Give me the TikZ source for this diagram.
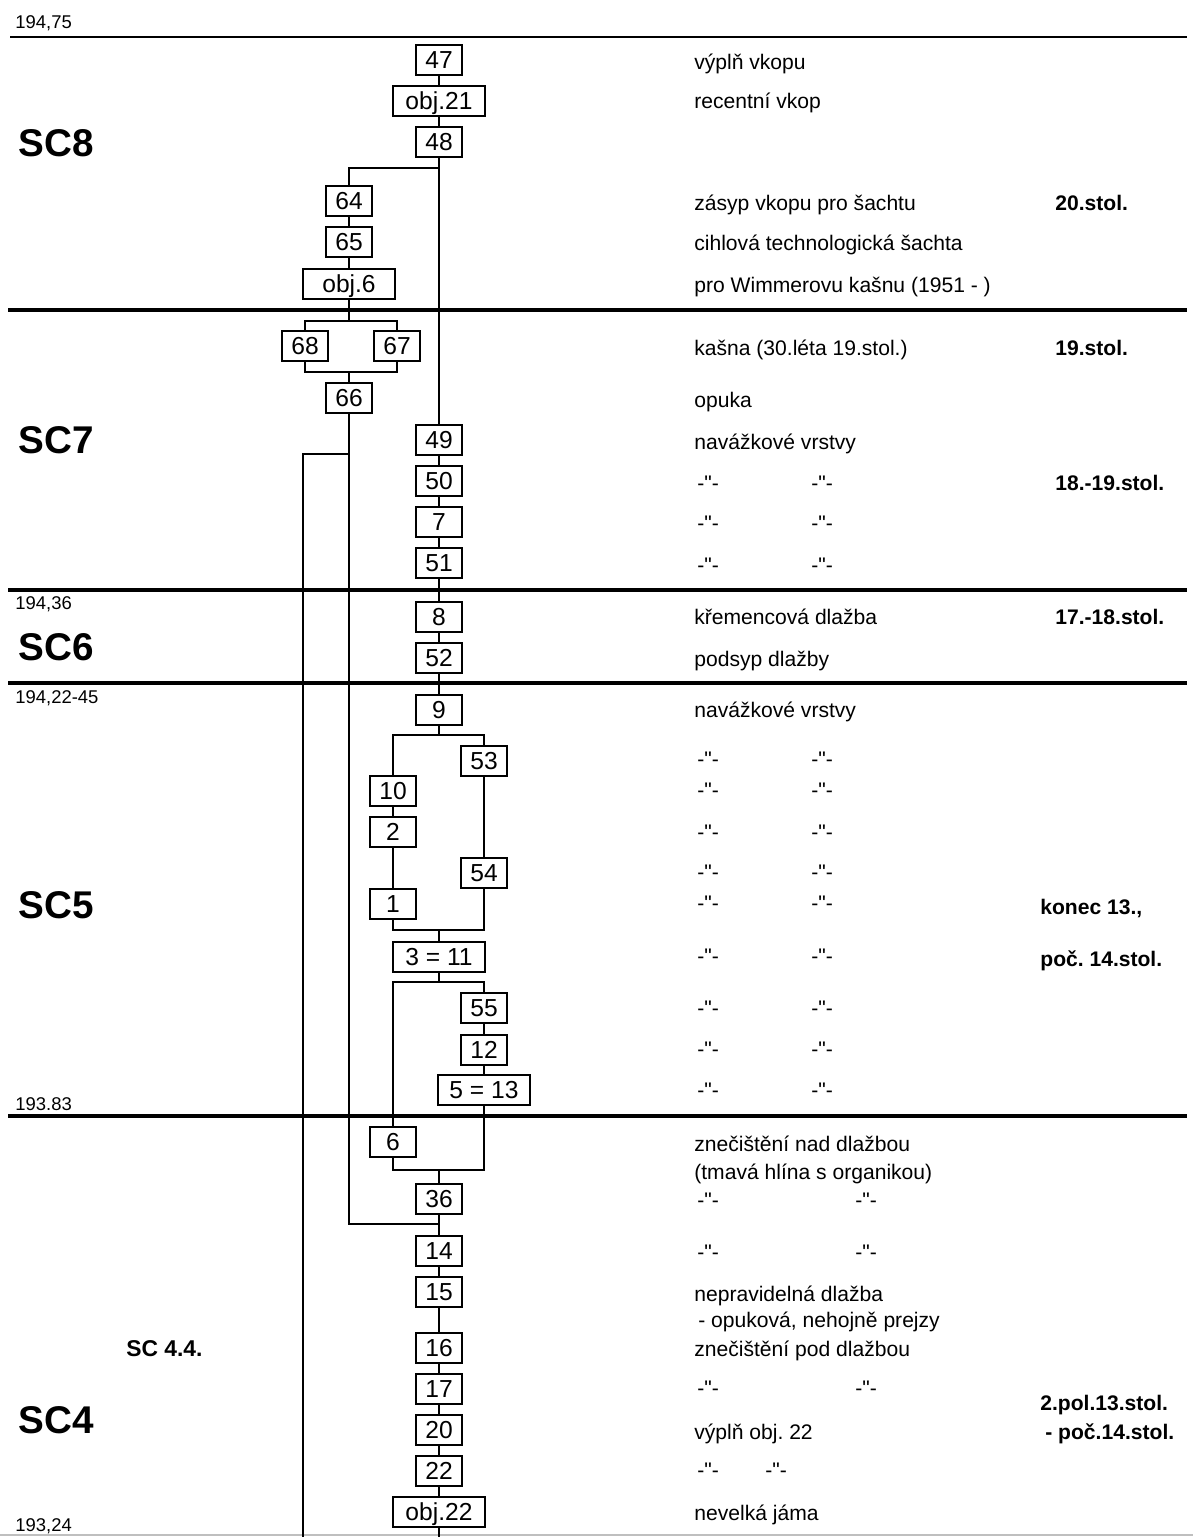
\documentclass[tikz,border=0pt]{standalone}
\usepackage{fontspec}
\setmainfont{Liberation Sans}[Ligatures=TeXOff]
\frenchspacing

\begin{document}
\begin{tikzpicture}[x=0.02cm, y=-0.02cm,
  box/.style={draw, line width=0.9pt, minimum width=0.92cm, minimum height=0.6cm,
    inner sep=0pt, font=\fontsize{14}{16}\selectfont, text height=10pt, text depth=0pt},
  wide/.style={box, minimum width=1.84cm},
  conn/.style={line width=0.9pt},
  stratum/.style={line width=2.4pt},
  lbl/.style={anchor=west, inner sep=0pt, font=\fontsize{12}{14}\selectfont,
    text height=8.6pt, text depth=0pt},
  era/.style={lbl, font=\fontsize{12}{14}\selectfont\bfseries},
  sc/.style={anchor=west, inner sep=0pt, font=\fontsize{22}{26}\selectfont\bfseries,
    text height=15.8pt, text depth=0pt},
  elev/.style={anchor=west, inner sep=0pt, font=\fontsize{10.5}{12}\selectfont,
    text height=7.5pt, text depth=0pt}]
  \useasboundingbox (0,0) rectangle (1193,1537);

  % hranice souvrstvi
  \draw[line width=1.1pt] (10,37) -- (1187,37);
  \draw[stratum] (8,310) -- (1187,310);
  \draw[stratum] (8,590) -- (1187,590);
  \draw[stratum] (8,683) -- (1187,683);
  \draw[stratum] (8,1116) -- (1187,1116);
  \draw[black!25, line width=0.8pt] (0,1535) -- (1193,1535);

  % nivelace
  \node[elev] (e1) at (15,22)   {194,75};
  \node[elev] (e2) at (15,603)  {194,36};
  \node[elev] (e3) at (15,697)  {194,22-45};
  \node[elev] (e4) at (15,1104) {193.83};
  \node[elev] (e5) at (15,1525) {193,24};

  % souvrstvi
  \node[sc] (sc8) at (18,143)  {SC8};
  \node[sc] (sc7) at (18,440)  {SC7};
  \node[sc] (sc6) at (18,647)  {SC6};
  \node[sc] (sc5) at (18,905)  {SC5};
  \node[sc] (sc4) at (18,1420) {SC4};
  \node[sc, font=\fontsize{13}{15}\selectfont\bfseries, text height=9.3pt] (sc44) at (126,1348) {SC 4.4.};

  % kontexty
  \node[box]  (n47) at (439,60)   {47};
  \node[wide] (o21) at (439,101)  {obj.21};
  \node[box]  (n48) at (439,142)  {48};
  \node[box]  (n64) at (349,201)  {64};
  \node[box]  (n65) at (349,242)  {65};
  \node[wide] (o6)  at (349,284)  {obj.6};
  \node[box]  (n68) at (305,346)  {68};
  \node[box]  (n67) at (397,346)  {67};
  \node[box]  (n66) at (349,398)  {66};
  \node[box]  (n49) at (439,440)  {49};
  \node[box]  (n50) at (439,481)  {50};
  \node[box]  (n7)  at (439,522)  {7};
  \node[box]  (n51) at (439,563)  {51};
  \node[box]  (n8)  at (439,617)  {8};
  \node[box]  (n52) at (439,658)  {52};
  \node[box]  (n9)  at (439,710)  {9};
  \node[box]  (n53) at (484,761)  {53};
  \node[box]  (n10) at (393,791)  {10};
  \node[box]  (n2)  at (393,832)  {2};
  \node[box]  (n54) at (484,873)  {54};
  \node[box]  (n1)  at (393,904)  {1};
  \node[wide] (n311) at (439,957) {3 = 11};
  \node[box]  (n55) at (484,1008) {55};
  \node[box]  (n12) at (484,1050) {12};
  \node[wide] (n513) at (484,1090) {5 = 13};
  \node[box]  (n6)  at (393,1142) {6};
  \node[box]  (n36) at (439,1199) {36};
  \node[box]  (n14) at (439,1251) {14};
  \node[box]  (n15) at (439,1292) {15};
  \node[box]  (n16) at (439,1348) {16};
  \node[box]  (n17) at (439,1389) {17};
  \node[box]  (n20) at (439,1430) {20};
  \node[box]  (n22) at (439,1471) {22};
  \node[wide] (o22) at (439,1512) {obj.22};

  % uzly vetveni
  \coordinate (b48)  at (439,168);
  \coordinate (b6)   at (349,321);
  \coordinate (m66)  at (349,372);
  \coordinate (b66)  at (349,454);
  \coordinate (bl)   at (303,1537);
  \coordinate (b9)   at (439,735);
  \coordinate (m311) at (439,930);
  \coordinate (b311) at (439,982);
  \coordinate (m36)  at (439,1170);
  \coordinate (j36)  at (439,1224);
  \coordinate (bo)   at (439,1537);

  % vazby
  \draw[conn] (n47) -- (o21) -- (n48) -- (n49) -- (n50) -- (n7) -- (n51)
    -- (n8) -- (n52) -- (n9) -- (b9);
  \draw[conn] (b48) -| (n64);
  \draw[conn] (n64) -- (n65) -- (o6) -- (b6);
  \draw[conn] (n68) |- (b6) -| (n67);
  \draw[conn] (n68) |- (m66) -| (n67);
  \draw[conn] (m66) -- (n66);
  \draw[conn] (n66) |- (j36);
  \draw[conn] (b66) -| (bl);
  \draw[conn] (n10) |- (b9) -| (n53);
  \draw[conn] (n10) -- (n2) -- (n1);
  \draw[conn] (n53) -- (n54);
  \draw[conn] (n1) |- (m311) -| (n54);
  \draw[conn] (m311) -- (n311) -- (b311);
  \draw[conn] (n6) |- (b311) -| (n55);
  \draw[conn] (n55) -- (n12) -- (n513);
  \draw[conn] (n6) |- (m36) -| (n513);
  \draw[conn] (m36) -- (n36) -- (n14) -- (n15) -- (n16) -- (n17) -- (n20)
    -- (n22) -- (o22) -- (bo);

  % popis
  \node[lbl] (t1)  at (694,62)   {výplň vkopu};
  \node[lbl] (t2)  at (694,101)  {recentní vkop};
  \node[lbl] (t3)  at (694,203)  {zásyp vkopu pro šachtu};
  \node[lbl] (t4)  at (694,243)  {cihlová technologická šachta};
  \node[lbl] (t5)  at (694,285)  {pro Wimmerovu kašnu (1951 - )};
  \node[lbl] (t6)  at (694,348)  {kašna (30.léta 19.stol.)};
  \node[lbl] (t7)  at (694,400)  {opuka};
  \node[lbl] (t8)  at (694,442)  {navážkové vrstvy};
  \node[lbl] (t9)  at (694,617)  {křemencová dlažba};
  \node[lbl] (t10) at (694,659)  {podsyp dlažby};
  \node[lbl] (t11) at (694,710)  {navážkové vrstvy};
  \node[lbl] (t12) at (694,1144) {znečištění nad dlažbou};
  \node[lbl] (t13) at (694,1172) {(tmavá hlína s organikou)};
  \node[lbl] (t14) at (694,1294) {nepravidelná dlažba};
  \node[lbl] (t15) at (698,1320) {- opuková, nehojně prejzy};
  \node[lbl] (t16) at (694,1349) {znečištění pod dlažbou};
  \node[lbl] (t17) at (694,1432) {výplň obj. 22};
  \node[lbl] (t18) at (694,1513) {nevelká jáma};

  % -"-
  \node[lbl] (d1a)  at (697,483)  {-"-}; \node[lbl] (d1b)  at (811,483)  {-"-};
  \node[lbl] (d2a)  at (697,523)  {-"-}; \node[lbl] (d2b)  at (811,523)  {-"-};
  \node[lbl] (d3a)  at (697,565)  {-"-}; \node[lbl] (d3b)  at (811,565)  {-"-};
  \node[lbl] (d4a)  at (697,759)  {-"-}; \node[lbl] (d4b)  at (811,759)  {-"-};
  \node[lbl] (d5a)  at (697,790)  {-"-}; \node[lbl] (d5b)  at (811,790)  {-"-};
  \node[lbl] (d6a)  at (697,832)  {-"-}; \node[lbl] (d6b)  at (811,832)  {-"-};
  \node[lbl] (d7a)  at (697,872)  {-"-}; \node[lbl] (d7b)  at (811,872)  {-"-};
  \node[lbl] (d8a)  at (697,903)  {-"-}; \node[lbl] (d8b)  at (811,903)  {-"-};
  \node[lbl] (d9a)  at (697,956)  {-"-}; \node[lbl] (d9b)  at (811,956)  {-"-};
  \node[lbl] (d10a) at (697,1008) {-"-}; \node[lbl] (d10b) at (811,1008) {-"-};
  \node[lbl] (d11a) at (697,1049) {-"-}; \node[lbl] (d11b) at (811,1049) {-"-};
  \node[lbl] (d12a) at (697,1090) {-"-}; \node[lbl] (d12b) at (811,1090) {-"-};
  \node[lbl] (d13a) at (697,1200) {-"-}; \node[lbl] (d13b) at (855,1200) {-"-};
  \node[lbl] (d14a) at (697,1252) {-"-}; \node[lbl] (d14b) at (855,1252) {-"-};
  \node[lbl] (d15a) at (697,1388) {-"-}; \node[lbl] (d15b) at (855,1388) {-"-};
  \node[lbl] (d16a) at (697,1470) {-"-}; \node[lbl] (d16b) at (765,1470) {-"-};

  % datace
  \node[era] (r1) at (1055,203)  {20.stol.};
  \node[era] (r2) at (1055,348)  {19.stol.};
  \node[era] (r3) at (1055,483)  {18.-19.stol.};
  \node[era] (r4) at (1055,617)  {17.-18.stol.};
  \node[era] (r5) at (1040,907)  {konec 13.,};
  \node[era] (r6) at (1040,959)  {poč. 14.stol.};
  \node[era] (r7) at (1040,1403) {2.pol.13.stol.};
  \node[era] (r8) at (1045,1432) {- poč.14.stol.};
\end{tikzpicture}
\end{document}
